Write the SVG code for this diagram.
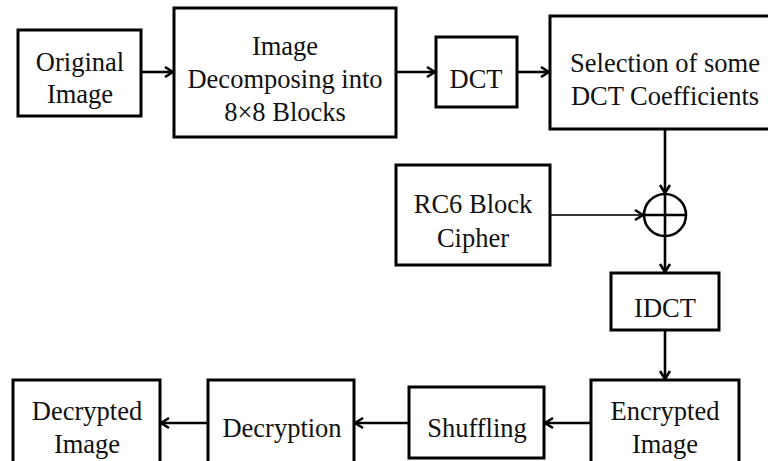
<svg xmlns="http://www.w3.org/2000/svg" width="768" height="461" viewBox="0 0 768 461">
<defs>
<style>
.box{fill:#fff;stroke:#000;stroke-width:3}
.t{font-family:"Times New Roman",Times,"Liberation Serif","DejaVu Serif","Noto Serif",serif;font-size:26.5px;fill:#111;text-anchor:middle}
.c{fill:none;stroke:#000;stroke-width:2.6}
.thin{fill:none;stroke:#333;stroke-width:1.8}
</style>
<marker id="ah" markerUnits="userSpaceOnUse" markerWidth="14" markerHeight="14" refX="11" refY="7" orient="auto" viewBox="0 0 14 14">
<path d="M3,2 L11,7 L3,12" fill="none" stroke="#000" stroke-width="2.6"/>
</marker>
</defs>
<rect width="768" height="461" fill="#fff"/>
<g id="connectors">
<line class="c" x1="141" y1="72" x2="173" y2="72" marker-end="url(#ah)"/>
<line class="c" x1="396" y1="72" x2="435" y2="72" marker-end="url(#ah)"/>
<line class="c" x1="517" y1="72" x2="549" y2="72" marker-end="url(#ah)"/>
<line class="c" x1="665" y1="129" x2="665" y2="193" marker-end="url(#ah)"/>
<line class="thin" x1="550" y1="215" x2="643" y2="215" marker-end="url(#ah)"/>
<line class="c" x1="665" y1="236" x2="665" y2="272" marker-end="url(#ah)"/>
<line class="c" x1="665" y1="330" x2="665" y2="379" marker-end="url(#ah)"/>
<line class="c" x1="591" y1="423" x2="545" y2="423" marker-end="url(#ah)"/>
<line class="c" x1="409" y1="423" x2="355" y2="423" marker-end="url(#ah)"/>
<line class="c" x1="208" y1="423" x2="161" y2="423" marker-end="url(#ah)"/>
</g>
<g id="original">
<rect class="box" x="18" y="30" width="123" height="86"/>
<text class="t" x="80" y="71">Original</text>
<text class="t" x="80" y="103">Image</text>
</g>
<g id="decompose">
<rect class="box" x="174" y="8" width="222" height="129"/>
<text class="t" x="285" y="55">Image</text>
<text class="t" x="285" y="88">Decomposing into</text>
<text class="t" x="285" y="121">8×8 Blocks</text>
</g>
<g id="dct">
<rect class="box" x="436" y="37" width="81" height="70"/>
<text class="t" x="476" y="88">DCT</text>
</g>
<g id="selection">
<rect class="box" x="550" y="16" width="240" height="113"/>
<text class="t" x="665" y="72">Selection of some</text>
<text class="t" x="665" y="105">DCT Coefficients</text>
</g>
<g id="rc6">
<rect class="box" x="396" y="165" width="154" height="100"/>
<text class="t" x="473" y="213">RC6 Block</text>
<text class="t" x="473" y="247">Cipher</text>
</g>
<g id="xor">
<circle cx="665" cy="215" r="21" fill="#fff" stroke="#000" stroke-width="2.6"/>
<line x1="665" y1="194" x2="665" y2="236" stroke="#000" stroke-width="2.6"/>
<line x1="644" y1="215" x2="686" y2="215" stroke="#000" stroke-width="2.6"/>
</g>
<g id="idct">
<rect class="box" x="611" y="273" width="108" height="57"/>
<text class="t" x="665" y="317">IDCT</text>
</g>
<g id="encrypted">
<rect class="box" x="591" y="380" width="148" height="100"/>
<text class="t" x="665" y="420">Encrypted</text>
<text class="t" x="665" y="453">Image</text>
</g>
<g id="shuffling">
<rect class="box" x="409" y="387" width="135" height="71"/>
<text class="t" x="477" y="437">Shuffling</text>
</g>
<g id="decryption">
<rect class="box" x="208" y="380" width="146" height="100"/>
<text class="t" x="282" y="437">Decryption</text>
</g>
<g id="decrypted">
<rect class="box" x="13" y="380" width="147" height="100"/>
<text class="t" x="87" y="420">Decrypted</text>
<text class="t" x="87" y="453">Image</text>
</g>
</svg>
